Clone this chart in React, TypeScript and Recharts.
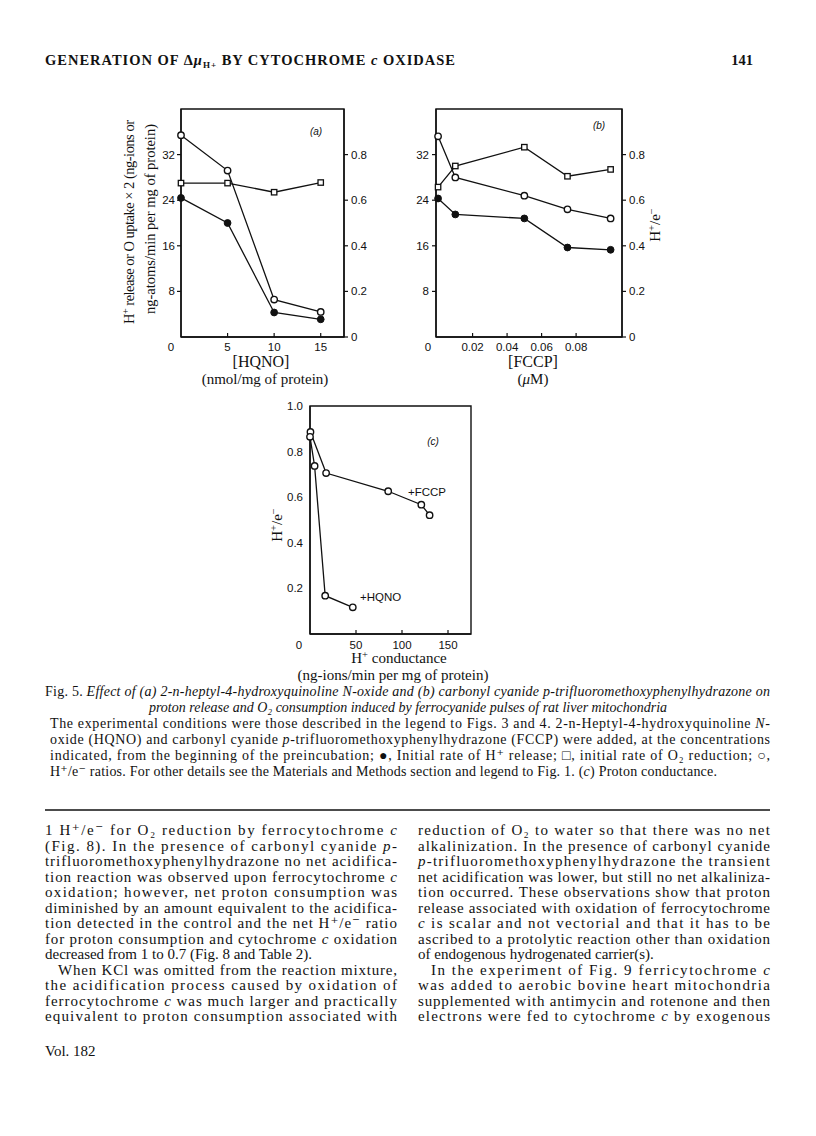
import React from 'react';
import { ComposedChart, Line, XAxis, YAxis, ReferenceArea } from 'recharts';

// ---------- Panel (a): HQNO ----------
const hqnoDose = [0, 5, 10, 15];
const hqnoHRelease = [24.4, 20.0, 4.3, 3.1];
const hqnoOUptake = [27.0, 27.0, 25.4, 27.1];
const hqnoRatio = [0.885, 0.73, 0.164, 0.11];

// ---------- Panel (b): FCCP ----------
const fccpDose = [0, 0.01, 0.05, 0.075, 0.1];
const fccpHRelease = [24.3, 21.5, 20.8, 15.7, 15.3];
const fccpOUptake = [26.3, 30.0, 33.3, 28.2, 29.4];
const fccpRatio = [0.88, 0.70, 0.62, 0.56, 0.52];

// ---------- Panel (c): proton conductance ----------
const fccpConductance = [0.5, 17.5, 85, 121, 130];
const fccpConductanceRatio = [0.886, 0.706, 0.626, 0.567, 0.521];
const hqnoConductance = [0, 5, 16.5, 46.5];
const hqnoConductanceRatio = [0.865, 0.737, 0.168, 0.117];

// ---------- Ticks ----------
const rateTicks = [8, 16, 24, 32];
const ratioRightTicks = [0, 0.2, 0.4, 0.6, 0.8];
const hqnoTicks = [0, 5, 10, 15];
const fccpTicks = [0, 0.02, 0.04, 0.06, 0.08];
const conductanceTicks = [0, 50, 100, 150];
const ratioLeftTicks = [0.2, 0.4, 0.6, 0.8, 1.0];

const rowsA = hqnoDose.map((x, i) => ({ x, h: hqnoHRelease[i], o: hqnoOUptake[i], r: hqnoRatio[i] }));
const rowsB = fccpDose.map((x, i) => ({ x, h: fccpHRelease[i], o: fccpOUptake[i], r: fccpRatio[i] }));
const rowsCF = fccpConductance.map((x, i) => ({ x, r: fccpConductanceRatio[i] }));
const rowsCH = hqnoConductance.map((x, i) => ({ x, r: hqnoConductanceRatio[i] }));

const SERIF = "'Liberation Serif', 'DejaVu Serif', serif";
const SANS = "'Liberation Sans', 'DejaVu Sans', Arial, sans-serif";
const INK = '#111';

const filledDot = { r: 3.4, fill: INK, stroke: INK, strokeWidth: 1 };
const openDot = { r: 3.2, fill: '#fff', stroke: INK, strokeWidth: 1.4 };
const squareDot = (p: any) => (
  <rect key={`sq-${p.index}`} x={p.cx - 2.7} y={p.cy - 2.7} width={5.4} height={5.4} fill="#fff" stroke={INK} strokeWidth={1.3} />
);

const fmtRatio = (v: number) => (v === 0 ? '0' : v.toFixed(1));

const makeXTick = (fmt: (v: number) => string, zeroShift: number, labelDy: number) => (props: any) => {
  const { x, y, payload } = props;
  const v = payload.value;
  const zero = v === 0;
  return (
    <g>
      {!zero && <line x1={x} x2={x} y1={y} y2={y - 4} stroke={INK} strokeWidth={1.2} />}
      <text x={zero ? x + zeroShift : x} y={y + labelDy} textAnchor="middle" fontFamily={SANS} fontSize={11.5} fill={INK}>
        {fmt(v)}
      </text>
    </g>
  );
};

const tickStyle = { fontFamily: SANS, fontSize: 11.5, fill: INK };
const axisLine = { stroke: INK, strokeWidth: 1.4 };
const tickLine = { stroke: INK, strokeWidth: 1.2 };

function PanelA() {
  return (
    <ComposedChart width={243} height={268} data={rowsA} margin={{ top: 10, right: 0, bottom: 0, left: 0 }}>
      <XAxis dataKey="x" type="number" domain={[0, 17.5]} ticks={hqnoTicks} height={30} axisLine={axisLine}
        tickLine={false} tickSize={0} tickMargin={0} tick={makeXTick((v) => String(v), -10, 14)} interval={0} />
      <YAxis yAxisId="l" domain={[0, 40]} ticks={rateTicks} width={40} axisLine={axisLine} tickLine={tickLine}
        tickSize={4} tickMargin={2} tick={tickStyle} interval={0} />
      <YAxis yAxisId="r" orientation="right" domain={[0, 1]} ticks={ratioRightTicks} width={40} axisLine={axisLine}
        tickLine={tickLine} tickSize={4} tickMargin={3} tick={tickStyle} tickFormatter={fmtRatio} interval={0} />
      <ReferenceArea yAxisId="l" x1={0} x2={17.5} y1={0} y2={40} fill="none" stroke={INK} strokeWidth={1.4} />
      <Line yAxisId="l" dataKey="o" stroke={INK} strokeWidth={1.3} dot={squareDot} isAnimationActive={false} />
      <Line yAxisId="l" dataKey="h" stroke={INK} strokeWidth={1.3} dot={filledDot} isAnimationActive={false} />
      <Line yAxisId="r" dataKey="r" stroke={INK} strokeWidth={1.3} dot={openDot} isAnimationActive={false} />
    </ComposedChart>
  );
}

function PanelB() {
  return (
    <ComposedChart width={266} height={268} data={rowsB} margin={{ top: 10, right: 0, bottom: 0, left: 0 }}>
      <XAxis dataKey="x" type="number" domain={[-0.0012, 0.1066]} ticks={fccpTicks} height={30} axisLine={axisLine}
        tickLine={false} tickSize={0} tickMargin={0} tick={makeXTick((v) => (v === 0 ? '0' : v.toFixed(2)), -10, 14)} interval={0} />
      <YAxis yAxisId="l" domain={[0, 40]} ticks={rateTicks} width={40} axisLine={axisLine} tickLine={tickLine}
        tickSize={4} tickMargin={3} tick={tickStyle} interval={0} />
      <YAxis yAxisId="r" orientation="right" domain={[0, 1]} ticks={ratioRightTicks} width={40} axisLine={axisLine}
        tickLine={tickLine} tickSize={4} tickMargin={3} tick={tickStyle} tickFormatter={fmtRatio} interval={0} />
      <ReferenceArea yAxisId="l" x1={-0.0012} x2={0.1066} y1={0} y2={40} fill="none" stroke={INK} strokeWidth={1.4} />
      <Line yAxisId="l" dataKey="o" stroke={INK} strokeWidth={1.3} dot={squareDot} isAnimationActive={false} />
      <Line yAxisId="l" dataKey="h" stroke={INK} strokeWidth={1.3} dot={filledDot} isAnimationActive={false} />
      <Line yAxisId="r" dataKey="r" stroke={INK} strokeWidth={1.3} dot={openDot} isAnimationActive={false} />
    </ComposedChart>
  );
}

function PanelC() {
  return (
    <ComposedChart width={203} height={268} margin={{ top: 10, right: 2, bottom: 0, left: 0 }}>
      <XAxis dataKey="x" type="number" domain={[0, 175]} ticks={conductanceTicks} height={30} axisLine={axisLine}
        tickLine={false} tickSize={0} tickMargin={0} tick={makeXTick((v) => String(v), -11, 15)} interval={0} />
      <YAxis domain={[0, 1]} ticks={ratioLeftTicks} width={40} axisLine={axisLine} tickLine={false}
        tickSize={0} tickMargin={7} tick={tickStyle} tickFormatter={fmtRatio} interval={0} />
      <ReferenceArea x1={0} x2={175} y1={0} y2={1} fill="none" stroke={INK} strokeWidth={1.4} />
      <Line data={rowsCF} dataKey="r" stroke={INK} strokeWidth={1.3} dot={openDot} isAnimationActive={false} />
      <Line data={rowsCH} dataKey="r" stroke={INK} strokeWidth={1.3} dot={openDot} isAnimationActive={false} />
    </ComposedChart>
  );
}

const Sup = ({ children }: any) => <tspan fontSize="0.7em" dy="-0.45em">{children}</tspan>;
const Back = ({ children, d }: any) => <tspan dy={d}>{children}</tspan>;
const I = ({ children }: any) => <tspan fontStyle="italic">{children}</tspan>;

function Line_({ x, y, w, size = 15, children, anchor, weight }: any) {
  return (
    <text x={x} y={y} textLength={w} lengthAdjust={w ? 'spacing' : undefined} fontFamily={SERIF} fontSize={size}
      fill={INK} textAnchor={anchor} fontWeight={weight}>
      {children}
    </text>
  );
}

function Overlay() {
  const capY0 = 696;
  const capDy = 16;
  const capSize = 14;
  const bodyY0 = 835;
  const bodyDy = 15.5;
  const LX = 45, LW = 352, RX = 418, RW = 352;
  const by = (i: number) => bodyY0 + i * bodyDy;
  return (
    <svg width={816} height={1136} style={{ position: 'absolute', left: 0, top: 0, pointerEvents: 'none' }}>
      {/* running head */}
      <Line_ x={45} y={65} w={410} size={14.5} weight="bold">
        GENERATION OF Δ<I>μ</I><tspan fontSize="9" dy="3">H+</tspan><tspan dy="-3"> BY CYTOCHROME </tspan><I>c</I> OXIDASE
      </Line_>
      <Line_ x={753} y={65} size={14.5} anchor="end" weight="bold">141</Line_>

      {/* panel (a) axis titles */}
      <text transform="rotate(-90 134 222)" x={134} y={222} textAnchor="middle" fontFamily={SERIF} fontSize={14.5} fill={INK}
        textLength={204} lengthAdjust="spacing">
        H<Sup>+</Sup><Back d="0.31em"> release or O uptake × 2 (ng-ions or</Back>
      </text>
      <text transform="rotate(-90 155 219)" x={155} y={219} textAnchor="middle" fontFamily={SERIF} fontSize={14.5} fill={INK}
        textLength={190} lengthAdjust="spacing">
        ng-atoms/min per mg of protein)
      </text>
      <text x={316} y={135} textAnchor="middle" fontFamily={SANS} fontSize={10} fontStyle="italic" fill={INK}>(a)</text>
      <text x={261} y={367} textAnchor="middle" fontFamily={SERIF} fontSize={16} fill={INK}>[HQNO]</text>
      <text x={265} y={384} textAnchor="middle" fontFamily={SERIF} fontSize={15} fill={INK}>(nmol/mg of protein)</text>

      {/* panel (b) */}
      <text x={599} y={129} textAnchor="middle" fontFamily={SANS} fontSize={10} fontStyle="italic" fill={INK}>(b)</text>
      <text x={533} y={367} textAnchor="middle" fontFamily={SERIF} fontSize={16} fill={INK}>[FCCP]</text>
      <text x={533} y={384} textAnchor="middle" fontFamily={SERIF} fontSize={15} fill={INK}>(<I>μ</I>M)</text>
      <text transform="rotate(-90 660 225)" x={660} y={225} textAnchor="middle" fontFamily={SERIF} fontSize={15} fill={INK}>
        H<Sup>+</Sup><Back d="0.31em">/e</Back><Sup>−</Sup>
      </text>

      {/* panel (c) */}
      <text x={433} y={445} textAnchor="middle" fontFamily={SANS} fontSize={10} fontStyle="italic" fill={INK}>(c)</text>
      <text x={408} y={496} fontFamily={SANS} fontSize={11.5} fill={INK}>+FCCP</text>
      <text x={360} y={601} fontFamily={SANS} fontSize={11.5} fill={INK}>+HQNO</text>
      <text transform="rotate(-90 282 525)" x={282} y={525} textAnchor="middle" fontFamily={SERIF} fontSize={15} fill={INK}>
        H<Sup>+</Sup><Back d="0.31em">/e</Back><Sup>−</Sup>
      </text>
      <text x={399} y={663} textAnchor="middle" fontFamily={SERIF} fontSize={15} fill={INK}>
        H<Sup>+</Sup><Back d="0.31em"> conductance</Back>
      </text>
      <text x={393} y={680} textAnchor="middle" fontFamily={SERIF} fontSize={15} fill={INK}>(ng-ions/min per mg of protein)</text>

      {/* caption */}
      <Line_ x={45} y={capY0} w={725} size={capSize}>
        Fig. 5. <I>Effect of (a) 2-n-heptyl-4-hydroxyquinoline N-oxide and (b) carbonyl cyanide p-trifluoromethoxyphenylhydrazone on</I>
      </Line_>
      <Line_ x={408} y={capY0 + capDy} size={capSize} anchor="middle">
        <I>proton release and O₂ consumption induced by ferrocyanide pulses of rat liver mitochondria</I>
      </Line_>
      <Line_ x={50} y={capY0 + 2 * capDy} w={720} size={capSize}>
        The experimental conditions were those described in the legend to Figs. 3 and 4. 2-n-Heptyl-4-hydroxyquinoline <I>N</I>-
      </Line_>
      <Line_ x={50} y={capY0 + 3 * capDy} w={720} size={capSize}>
        oxide (HQNO) and carbonyl cyanide <I>p</I>-trifluoromethoxyphenylhydrazone (FCCP) were added, at the concentrations
      </Line_>
      <Line_ x={50} y={capY0 + 4 * capDy} w={720} size={capSize}>
        indicated, from the beginning of the preincubation; ●, Initial rate of H⁺ release; □, initial rate of O₂ reduction; ○,
      </Line_>
      <Line_ x={50} y={capY0 + 5 * capDy} w={667} size={capSize}>
        H⁺/e⁻ ratios. For other details see the Materials and Methods section and legend to Fig. 1. (<I>c</I>) Proton conductance.
      </Line_>

      <line x1={45} x2={770} y1={810} y2={810} stroke={INK} strokeWidth={1.6} />

      {/* left column */}
      <Line_ x={LX} y={by(0)} w={LW}>1 H⁺/e⁻ for O₂ reduction by ferrocytochrome <I>c</I></Line_>
      <Line_ x={LX} y={by(1)} w={LW}>(Fig. 8). In the presence of carbonyl cyanide <I>p</I>-</Line_>
      <Line_ x={LX} y={by(2)} w={LW}>trifluoromethoxyphenylhydrazone no net acidifica-</Line_>
      <Line_ x={LX} y={by(3)} w={LW}>tion reaction was observed upon ferrocytochrome <I>c</I></Line_>
      <Line_ x={LX} y={by(4)} w={LW}>oxidation; however, net proton consumption was</Line_>
      <Line_ x={LX} y={by(5)} w={LW}>diminished by an amount equivalent to the acidifica-</Line_>
      <Line_ x={LX} y={by(6)} w={LW}>tion detected in the control and the net H⁺/e⁻ ratio</Line_>
      <Line_ x={LX} y={by(7)} w={LW}>for proton consumption and cytochrome <I>c</I> oxidation</Line_>
      <Line_ x={LX} y={by(8)}>decreased from 1 to 0.7 (Fig. 8 and Table 2).</Line_>
      <Line_ x={LX + 13} y={by(9)} w={LW - 13}>When KCl was omitted from the reaction mixture,</Line_>
      <Line_ x={LX} y={by(10)} w={LW}>the acidification process caused by oxidation of</Line_>
      <Line_ x={LX} y={by(11)} w={LW}>ferrocytochrome <I>c</I> was much larger and practically</Line_>
      <Line_ x={LX} y={by(12)} w={LW}>equivalent to proton consumption associated with</Line_>

      {/* right column */}
      <Line_ x={RX} y={by(0)} w={RW}>reduction of O₂ to water so that there was no net</Line_>
      <Line_ x={RX} y={by(1)} w={RW}>alkalinization. In the presence of carbonyl cyanide</Line_>
      <Line_ x={RX} y={by(2)} w={RW}><I>p</I>-trifluoromethoxyphenylhydrazone the transient</Line_>
      <Line_ x={RX} y={by(3)} w={RW}>net acidification was lower, but still no net alkaliniza-</Line_>
      <Line_ x={RX} y={by(4)} w={RW}>tion occurred. These observations show that proton</Line_>
      <Line_ x={RX} y={by(5)} w={RW}>release associated with oxidation of ferrocytochrome</Line_>
      <Line_ x={RX} y={by(6)} w={RW}><I>c</I> is scalar and not vectorial and that it has to be</Line_>
      <Line_ x={RX} y={by(7)} w={RW}>ascribed to a protolytic reaction other than oxidation</Line_>
      <Line_ x={RX} y={by(8)}>of endogenous hydrogenated carrier(s).</Line_>
      <Line_ x={RX + 13} y={by(9)} w={RW - 13}>In the experiment of Fig. 9 ferricytochrome <I>c</I></Line_>
      <Line_ x={RX} y={by(10)} w={RW}>was added to aerobic bovine heart mitochondria</Line_>
      <Line_ x={RX} y={by(11)} w={RW}>supplemented with antimycin and rotenone and then</Line_>
      <Line_ x={RX} y={by(12)} w={RW}>electrons were fed to cytochrome <I>c</I> by exogenous</Line_>

      <Line_ x={45} y={1056} size={15}>Vol. 182</Line_>
    </svg>
  );
}

export default function App() {
  return (
    <div style={{ position: 'absolute', left: 0, top: 0, width: 816, height: 1136, background: '#fff', overflow: 'hidden' }}>
      <div style={{ position: 'absolute', left: 141, top: 99 }}><PanelA /></div>
      <div style={{ position: 'absolute', left: 395.7, top: 99 }}><PanelB /></div>
      <div style={{ position: 'absolute', left: 269.7, top: 395.7 }}><PanelC /></div>
      <Overlay />
    </div>
  );
}
